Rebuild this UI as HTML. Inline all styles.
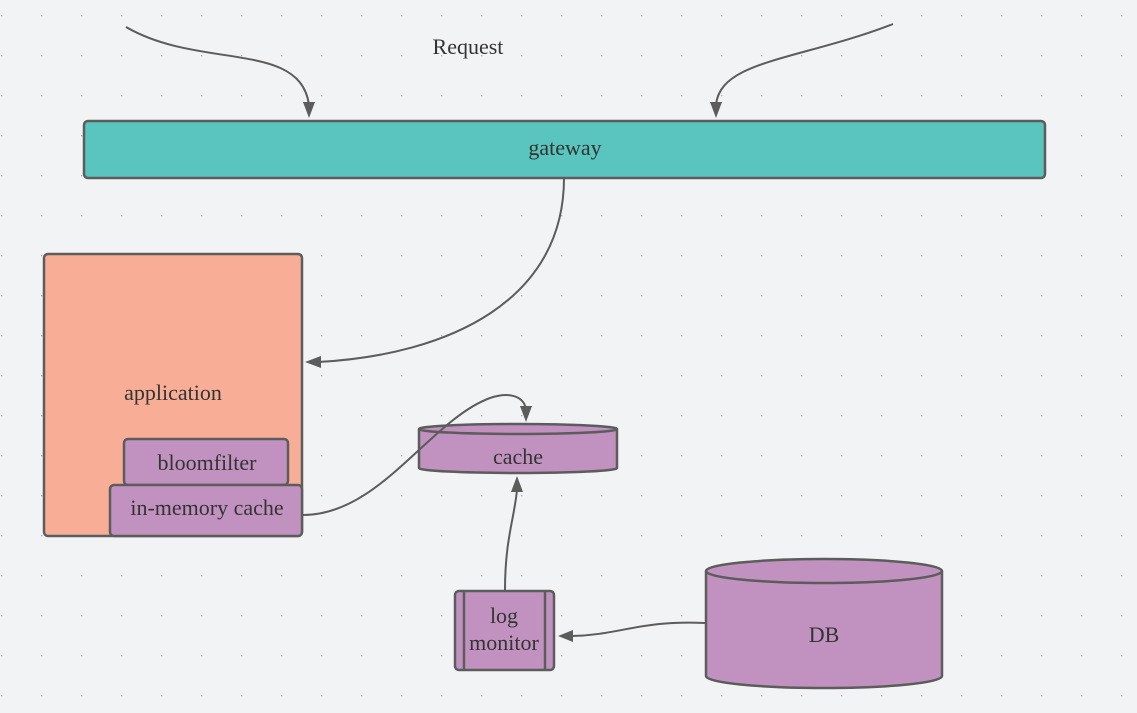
<!DOCTYPE html>
<html><head><style>
html,body{margin:0;padding:0;background:#f2f3f5;}
svg{display:block;font-family:"Liberation Serif",serif;}
</style></head><body>
<svg width="1137" height="713" viewBox="0 0 1137 713" xmlns="http://www.w3.org/2000/svg">
<defs>
<pattern id="g" x="1" y="15" width="40" height="40" patternUnits="userSpaceOnUse">
<rect x="0" y="0" width="1.3" height="1.3" fill="#a6a8ad"/>
</pattern>
</defs>
<rect width="1137" height="713" fill="#f2f3f5"/>
<rect width="1137" height="713" fill="url(#g)"/>
<g fill="none" stroke="#5c5c5c" stroke-width="2">
<path d="M126 27 C200 70 300 40 309 105"/>
<path d="M893 24 C800 60 720 60 716 105"/>
<path d="M564 178 C564 300 450 355 318 362"/>
<path d="M505 590 C505 540 514 520 517 490"/>
<path d="M705 623 C640 620 620 635 572 636"/>
</g>
<text x="468" y="54" font-size="22" fill="#333" text-anchor="middle">Request</text>
<rect x="84" y="121" width="961" height="57" rx="4" fill="#5ac4bf" stroke="#5c5c5c" stroke-width="2.5"/>
<text x="565" y="155" font-size="22" fill="#333" text-anchor="middle">gateway</text>
<rect x="44" y="254" width="258" height="282" rx="4" fill="#f8ae96" stroke="#5c5c5c" stroke-width="2.5"/>
<text x="173" y="400" font-size="22" fill="#333" text-anchor="middle">application</text>
<rect x="124" y="439" width="164" height="46" rx="4" fill="#c192c0" stroke="#5c5c5c" stroke-width="2.5"/>
<text x="207" y="470" font-size="22" fill="#333" text-anchor="middle">bloomfilter</text>
<rect x="110" y="485" width="192" height="51" rx="4" fill="#c192c0" stroke="#5c5c5c" stroke-width="2.5"/>
<text x="207" y="515" font-size="22" fill="#333" text-anchor="middle">in-memory cache</text>
<path d="M419 429 L419 468 A99 5 0 0 0 617 468 L617 429" fill="#c192c0" stroke="#5c5c5c" stroke-width="2.5"/>
<ellipse cx="518" cy="429" rx="99" ry="5" fill="#c192c0" stroke="#5c5c5c" stroke-width="2.5"/>
<text x="518" y="464" font-size="22" fill="#333" text-anchor="middle">cache</text>
<path d="M303 515 C380 515 430 420 490 398 C515 390 525 400 526 410" fill="none" stroke="#5c5c5c" stroke-width="2"/>
<rect x="455" y="591" width="99" height="79" rx="4" fill="#c192c0" stroke="#5c5c5c" stroke-width="2.5"/>
<line x1="464" y1="591" x2="464" y2="670" stroke="#5c5c5c" stroke-width="2.5"/>
<line x1="545" y1="591" x2="545" y2="670" stroke="#5c5c5c" stroke-width="2.5"/>
<text x="504" y="623" font-size="22" fill="#333" text-anchor="middle">log</text>
<text x="504" y="650" font-size="22" fill="#333" text-anchor="middle">monitor</text>
<path d="M706 571 L706 676 A118 12 0 0 0 942 676 L942 571" fill="#c192c0" stroke="#5c5c5c" stroke-width="2.5"/>
<ellipse cx="824" cy="571" rx="118" ry="12" fill="#c192c0" stroke="#5c5c5c" stroke-width="2.5"/>
<text x="824" y="642" font-size="22" fill="#333" text-anchor="middle">DB</text>
<g fill="#5c5c5c">
<polygon points="309,118 303,102 315,102"/>
<polygon points="716,118 710,102 722,102"/>
<polygon points="305,362 321,356 321,368"/>
<polygon points="526,422 520,406 532,406"/>
<polygon points="517,476 511,492 523,492"/>
<polygon points="558,636 573,630 573,642"/>
</g>
</svg>
</body></html>
